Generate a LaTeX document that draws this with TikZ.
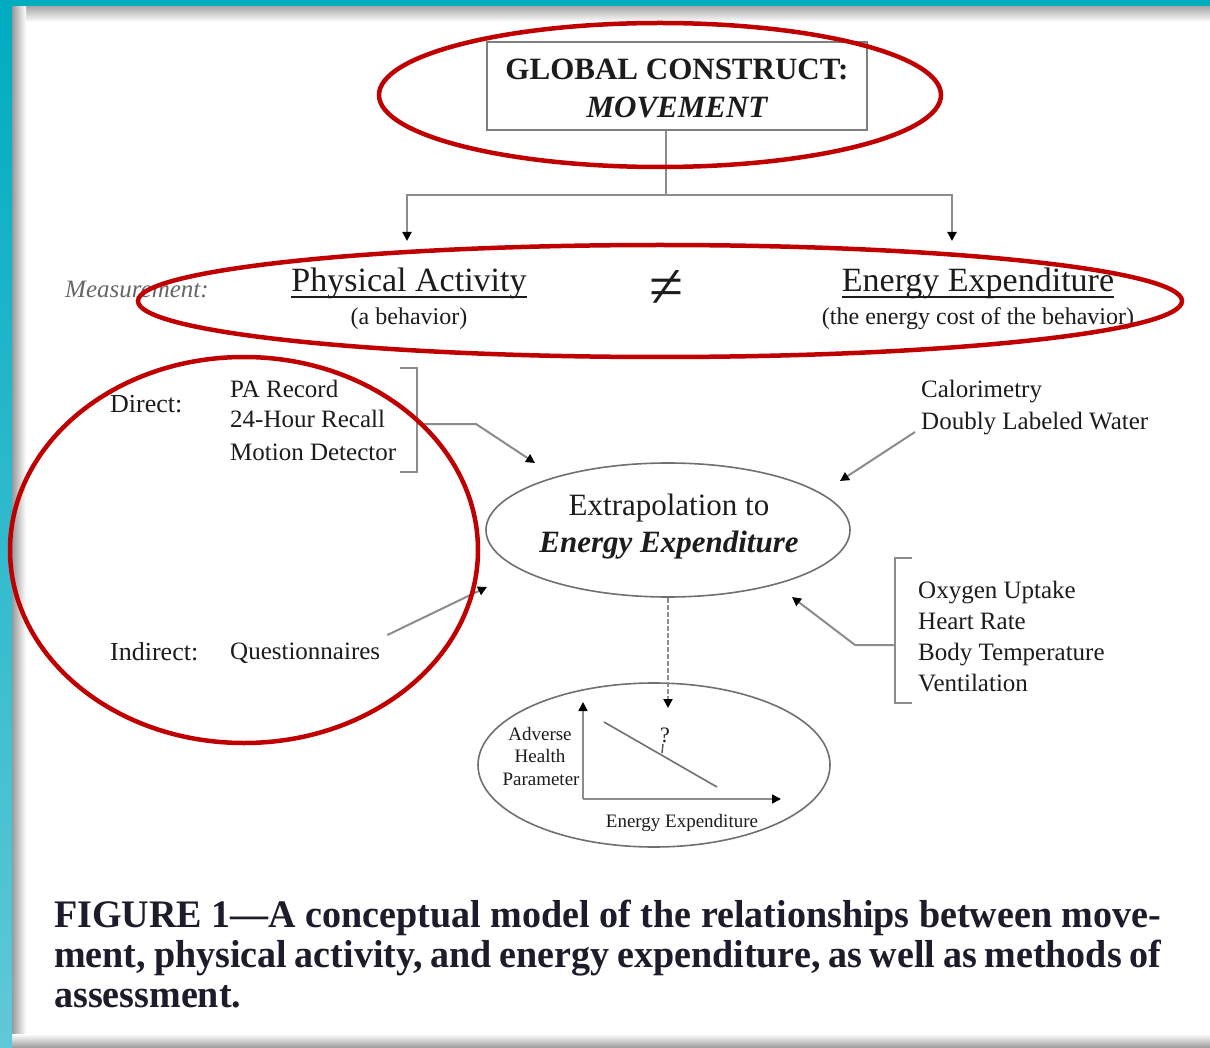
\documentclass[tikz,border=0pt]{standalone}
\usepackage{graphicx}
\usepackage{fontspec}
\setmainfont{Liberation Serif}
\usetikzlibrary{arrows.meta,shapes.geometric}

\definecolor{tealA}{RGB}{0,172,192}
\definecolor{tealB}{RGB}{96,200,216}
\definecolor{ringred}{RGB}{192,0,0}
\definecolor{ink}{RGB}{28,28,28}
\definecolor{wire}{RGB}{140,140,140}
\definecolor{capink}{RGB}{28,28,42}

\newcommand\fsz[1]{\fontsize{#1}{#1}\selectfont}

% caption set as a justified block squeezed to the column width
\newsavebox\firstline
\newcommand\capfit{%
  \fontsize{39}{40}\selectfont\bfseries
  \sbox\firstline{FIGURE 1---A conceptual model of the relationships between move-}%
  \resizebox{1107pt}{\height}{\begin{tabular}[t]{@{}l@{}}\usebox\firstline\\
    \makebox[\wd\firstline][s]{ment, physical activity, and energy expenditure, as well as methods of}\\
    assessment.\end{tabular}}}

\begin{document}
\begin{tikzpicture}[x=1pt,y=-1pt,
  txt/.style={inner sep=0pt, anchor=base west, text=ink},
  ctxt/.style={inner sep=0pt, anchor=base, text=ink},
  wireline/.style={draw=wire, line width=2pt},
  arr/.style={wireline, -{Triangle[length=9pt,width=9pt,color=black]}},
  ring/.style={draw=ringred, line width=4.5pt},
  oval/.style={ellipse, draw=wire!80!black, line width=1.6pt, inner sep=0pt},
]
% page and frame
\useasboundingbox (0,0) rectangle (1210,1048);
\fill[white] (0,0) rectangle (1210,1048);
\shade[top color=black!35, bottom color=white] (12,6) rectangle (1210,22);
\shade[left color=black!40, right color=white] (12,6) rectangle (26,1040);
\shade[top color=white, bottom color=black!40] (12,1034) rectangle (1210,1048);
\fill[tealA] (0,0) rectangle (1210,6);
\shade[top color=tealA, bottom color=tealB] (0,0) rectangle (12,1048);

% global construct
\node[draw=wire!90!black, line width=2.5pt, minimum width=380pt, minimum height=88pt, inner sep=0pt] (gc) at (677,86) {};
\node[ctxt, font=\fsz{31}\bfseries] (gct) at (677,80) {GLOBAL CONSTRUCT:};
\node[ctxt, font=\fsz{31}\bfseries\itshape] (gcm) at (677,118) {MOVEMENT};

\coordinate (fork) at (666,195);
\coordinate (paTip) at (407,241);
\coordinate (eeTip) at (952,241);
\draw[wireline] (gc.south -| fork) -- (fork);
\draw[arr] (fork) -| (paTip);
\draw[arr] (fork) -| (eeTip);

% measurement row
\node[txt, font=\fsz{25}\itshape, text=black!60] (meas) at (65,298) {Measurement:};
\node[ctxt, font=\fsz{34}] (pa) at (409,292) {Physical Activity};
\draw[ink, line width=1.8pt] ([yshift=-5pt]pa.base west) -- ([yshift=-5pt]pa.base east);
\node[ctxt, font=\fsz{24}] (pab) at (409,325) {(a behavior)};
\node[ctxt, font=\fsz{62}] (neq) at (667,308) {≠};
\node[ctxt, font=\fsz{34}] (ee) at (978,292) {Energy Expenditure};
\draw[ink, line width=1.8pt] ([yshift=-5pt]ee.base west) -- ([yshift=-5pt]ee.base east);
\node[ctxt, font=\fsz{24}] (eeb) at (978,325) {(the energy cost of the behavior)};

% direct methods
\node[txt, font=\fsz{26}] (dir) at (110,412) {Direct:};
\node[txt, font=\fsz{25}] (d1) at (230,398) {PA Record};
\node[txt, font=\fsz{25}] (d2) at (230,428) {24-Hour Recall};
\node[txt, font=\fsz{25}] (d3) at (230,460) {Motion Detector};
\draw[wireline] (400,368) -| (417,472) -- (400,472);
\coordinate (dbr) at (417,424);
\coordinate (dTip) at (535,463);
\draw[arr] (dbr) -- (476,424) -- (dTip);

% indirect methods
\node[txt, font=\fsz{26}] (ind) at (110,660) {Indirect:};
\node[txt, font=\fsz{25}] (q) at (230,659) {Questionnaires};
\coordinate (qTip) at (487,587);
\draw[arr] ([shift={(7,-24)}]q.base east) -- (qTip);

% criterion methods
\node[txt, font=\fsz{25}] (c1) at (921,398) {Calorimetry};
\node[txt, font=\fsz{25}] (c2) at (921,429) {Doubly Labeled Water};
\coordinate (cTip) at (840,481);
\draw[arr] ([shift={(-6,3)}]c2.base west) -- (cTip);

% extrapolation
\node[oval, minimum width=364pt, minimum height=134pt] (ext) at (668,530) {};
\node[ctxt, font=\fsz{31}] (ex1) at (669,515) {Extrapolation to};
\node[ctxt, font=\fsz{31}\bfseries\itshape] (ex2) at (669,552) {Energy Expenditure};

% physiological markers
\node[txt, font=\fsz{25}] (o1) at (918,598) {Oxygen Uptake};
\node[txt, font=\fsz{25}] (o2) at (918,629) {Heart Rate};
\node[txt, font=\fsz{25}] (o3) at (918,660) {Body Temperature};
\node[txt, font=\fsz{25}] (o4) at (918,691) {Ventilation};
\draw[wireline] (912,558) -| (895,703) -- (912,703);
\coordinate (rbr) at (895,645);
\coordinate (rTip) at (792,597);
\draw[arr] (rbr) -- (855,645) -- (rTip);

% health outcome graph
\node[oval, minimum width=352pt, minimum height=164pt] (gr) at (654,765) {};
\coordinate (gTip) at (668,708);
\draw[arr, dash pattern=on 5pt off 2pt] (ext.south) -- (gTip);
\coordinate (org) at (583,799);
\coordinate (yTop) at (583,702);
\coordinate (xEnd) at (781,799);
\draw[arr, line width=1.6pt] (org) -- (yTop);
\draw[arr, line width=1.6pt] (org) -- (xEnd);
\draw[draw=wire!80!black, line width=1.6pt] (604,722) -- (717,787);
\node[ctxt, font=\fsz{22}] (qm) at (665,742) {?};
\draw[draw=wire!60!black, line width=1.4pt] (663,744) -- (662,753);
\node[ctxt, font=\fsz{19}] (ya1) at (540,740) {Adverse};
\node[ctxt, font=\fsz{19}] (ya2) at (540,762) {Health};
\node[ctxt, font=\fsz{19}] (ya3) at (541,785) {Parameter};
\node[ctxt, font=\fsz{19}] (xa) at (682,827) {Energy Expenditure};

% highlight rings
\draw[ring] (660,95) ellipse [x radius=281pt, y radius=72pt];
\draw[ring] (660,301) ellipse [x radius=522pt, y radius=56pt];
\draw[ring] (244,550) ellipse [x radius=234pt, y radius=193pt];

% caption
\node[anchor=base west, inner sep=0pt, text=capink] (cap) at (54,927) {\capfit};
\end{tikzpicture}
\end{document}
